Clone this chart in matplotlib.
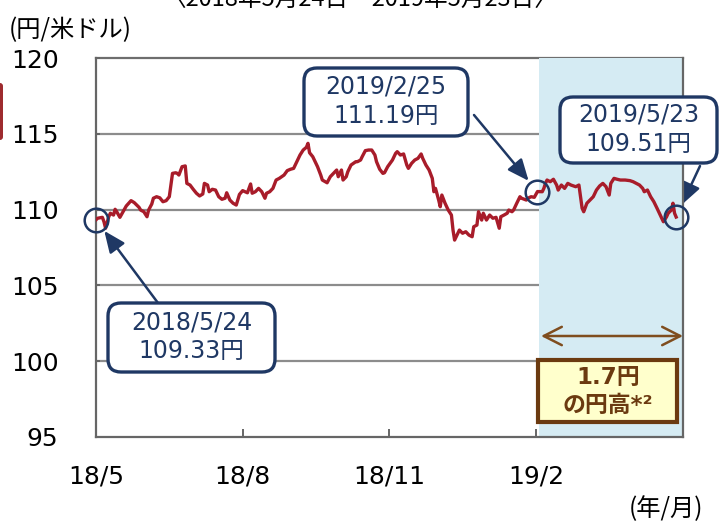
import matplotlib
matplotlib.use('Agg')
import matplotlib.pyplot as plt
from matplotlib.patches import FancyBboxPatch, Rectangle
from matplotlib.transforms import IdentityTransform

plt.rcParams['font.family'] = ['DejaVu Sans', 'Noto Sans CJK JP']

# ---- data (USD/JPY, days since 2018-05-24) ----
days = [0, 1, 4, 5, 6, 8, 9, 11, 12, 13, 15, 17, 19, 22, 24, 27, 28, 30, 32, 33,
        35, 36, 38, 40, 42, 44, 46, 48, 50, 51, 52, 54, 56, 57, 59, 61, 63, 65, 67, 68,
        70, 71, 73, 75, 77, 79, 81, 82, 84, 86, 88,
        90, 92, 95, 97, 98, 100, 102, 104, 106, 107, 109, 111, 113, 115, 118, 120, 122, 124, 126,
        128, 130, 132, 133, 134, 136, 138, 139, 141, 142, 145, 147, 149, 151, 152, 154, 155, 157, 158,
        160, 163, 164, 166, 167, 169, 171, 173, 175, 176, 178, 180,
        181, 183, 186, 188, 189, 191, 193, 195, 196, 198, 200, 202, 204, 205, 207, 209, 211, 212, 213,
        215, 216, 217, 219, 221, 223, 224, 225, 227, 228, 230, 232, 234, 236, 237, 239, 240, 242, 243,
        245, 247, 249, 251, 253, 254, 256, 258, 259, 261, 262, 264, 266, 267, 270,
        271, 273, 275, 277, 280, 281, 282, 283, 285, 287, 289, 290, 292, 294, 296, 298, 301, 303, 304,
        305, 306, 308, 310, 312, 314, 316, 318, 320, 322, 323, 325, 327, 329, 332, 335, 337, 339, 341,
        343, 344, 346, 348, 350, 352, 354, 356, 358, 359, 360, 361, 362, 363, 364]
usdjpy = [109.33, 109.43, 109.49, 109.20, 108.77, 109.53, 109.76, 109.64, 110.02, 109.86,
          109.49, 109.86, 110.24, 110.59, 110.46, 110.15, 109.97, 109.86, 109.53, 109.97,
          110.37, 110.75, 110.85, 110.78, 110.52, 110.59, 110.85, 112.39, 112.43, 112.39,
          112.28, 112.83, 112.88, 111.73, 111.62, 111.34, 111.08, 110.90, 111.03, 111.73,
          111.62, 111.18, 111.34, 111.29, 110.85, 110.68, 110.75, 111.11, 110.63, 110.42, 110.30,
          111.00, 111.25, 111.11, 111.69, 111.08, 111.18, 111.40, 111.18, 110.75, 111.08,
          111.18, 111.40, 111.95, 112.06, 112.28, 112.57, 112.66, 112.72, 113.16,
          113.60, 113.93, 114.11, 114.37, 113.75, 113.49, 113.05, 112.83, 112.28, 111.95,
          111.77, 112.17, 112.39, 112.61, 112.17, 112.61, 111.95, 112.17, 112.50,
          112.94, 113.16, 113.16, 113.27, 113.49, 113.89, 113.93, 113.93, 113.60, 113.16, 112.66, 112.39,
          112.43, 112.83, 113.27, 113.71, 113.82, 113.60, 113.67, 112.94, 112.72, 113.05,
          113.27, 113.38, 113.67, 113.38, 112.94, 112.61, 112.06, 111.18, 111.40,
          110.63, 110.19, 110.96, 110.42, 109.97, 109.64, 108.65, 107.99, 108.44, 108.65,
          108.44, 108.54, 108.32, 108.21, 108.87, 108.98, 109.86, 109.31, 109.76,
          109.31, 109.64, 109.43, 109.49, 108.77, 109.53, 109.64, 109.76, 109.97, 109.86,
          109.97, 110.42, 110.85, 110.75, 110.63,
          110.75, 110.85, 110.81, 111.19, 111.18, 111.40, 111.73, 111.95, 111.84, 112.00,
          111.62, 111.29, 111.62, 111.40, 111.73, 111.62, 111.51, 111.62, 110.85,
          110.09, 109.86, 110.42, 110.63, 110.85, 111.29, 111.56, 111.73, 111.51, 110.96,
          111.73, 112.06, 112.00, 111.95, 111.95, 111.91, 111.84, 111.73, 111.62,
          111.40, 111.18, 111.29, 110.85, 110.52, 110.09, 109.64, 109.20, 109.53, 109.76,
          109.86, 109.97, 110.42, 109.76, 109.51]

tick_days = [0, 92, 184, 276]
tick_labels = ['18/5', '18/8', '18/11', '19/2']
y_ticks = [95, 100, 105, 110, 115, 120]
marked_days = [0, 277, 364]
marked_vals = [109.33, 111.19, 109.51]
callouts = [('2018/5/24', '109.33円'), ('2019/2/25', '111.19円'), ('2019/5/23', '109.51円')]
move_text = ('1.7円', 'の円高*²')
title = '〈2018年5月24日～2019年5月23日〉'

W, H = 720, 522
NAVY = '#1f3864'
RED = '#a81c2a'
BROWN = '#6b3a10'

fig = plt.figure(figsize=(W / 100, H / 100), dpi=100)
ax = fig.add_axes([96 / W, 1 - 437 / H, 587 / W, 379 / H])
ax.set_xlim(0, 368.3)
ax.set_ylim(95, 120)

for v in [100, 105, 110, 115]:
    ax.axhline(v, color='#8c8c8c', lw=1.6, zorder=1)
ax.axhline(120, color='#6e6e6e', lw=1.6, zorder=1, clip_on=False)
ax.axvspan(278, 368.3, color='#d5ebf3', lw=0, zorder=2)

ax.plot(days, usdjpy, color=RED, lw=2.4, zorder=5, solid_joinstyle='round')
ax.plot(marked_days, marked_vals, 'o', ms=17, mfc='none', mec=NAVY, mew=1.8,
        zorder=6, clip_on=False)

ax.spines['top'].set_visible(False)
for s in ['left', 'right', 'bottom']:
    ax.spines[s].set_color('#666666')
    ax.spines[s].set_linewidth(1.6)
    ax.spines[s].set_zorder(3)

ax.set_xticks(tick_days)
ax.set_xticklabels(tick_labels)
ax.set_yticks(y_ticks)
ax.set_yticklabels([str(t) for t in y_ticks])
ax.tick_params(axis='x', direction='in', length=6, width=1.4, color='#666666',
               pad=20, labelsize=18)
ax.tick_params(axis='y', direction='in', length=3, width=1.4, color='#666666',
               pad=27, labelsize=18)

def fp(x, y):
    return (x, H - y)

# arrows to circles
arrow_kw = dict(arrowstyle='-|>,head_length=0.65,head_width=0.28', color=NAVY,
                lw=1.8, shrinkA=0, shrinkB=10, mutation_scale=20)
starts = [(158, 303), (474, 115), (700, 166)]
for (d, v), s in zip(zip(marked_days, marked_vals), starts):
    ax.annotate('', xy=(d, v), xycoords='data', xytext=fp(*s),
                textcoords='figure pixels', arrowprops=arrow_kw,
                annotation_clip=False)

# double arrow
ax.annotate('', xy=fp(683, 336), xycoords='figure pixels', xytext=fp(541, 336),
            textcoords='figure pixels', annotation_clip=False,
            arrowprops=dict(arrowstyle='<->,head_length=0.65,head_width=0.33',
                            color='#7f4d1e', lw=1.8, shrinkA=0, shrinkB=0,
                            mutation_scale=20))

# callout boxes
boxes = [(108, 303, 275, 372), (304, 68, 468, 136), (560, 97, 717, 163)]
for (x0, y0, x1, y1), (l1, l2) in zip(boxes, callouts):
    p = FancyBboxPatch((x0, H - y1), x1 - x0, y1 - y0,
                       boxstyle='round,pad=0,rounding_size=13',
                       transform=IdentityTransform(), fc='white', ec=NAVY,
                       lw=2.4, zorder=10)
    fig.add_artist(p)
    cx = (x0 + x1) / 2
    cy = (y0 + y1) / 2
    fig.text(cx / W, 1 - (cy - 15) / H, l1, ha='center', va='center',
             fontsize=17, color=NAVY, zorder=11)
    fig.text(cx / W, 1 - (cy + 14) / H, l2, ha='center', va='center',
             fontsize=17, color=NAVY, zorder=11)

# yellow box
r = Rectangle((538, H - 422), 139, 62, transform=IdentityTransform(),
              fc='#ffffcc', ec=BROWN, lw=3, zorder=10)
fig.add_artist(r)
fig.text(608 / W, 1 - 378 / H, move_text[0], ha='center', va='center',
         fontsize=16.5, fontweight='bold', color=BROWN, zorder=11)
fig.text(608 / W, 1 - 405 / H, move_text[1], ha='center', va='center',
         fontsize=16.5, fontweight='bold', color=BROWN, zorder=11)

# red tab at left edge
tab = FancyBboxPatch((-8, H - 140), 11, 57, boxstyle='round,pad=0,rounding_size=3',
                     transform=IdentityTransform(), fc='#9e2b2f', ec='none')
fig.add_artist(tab)

# texts
cjk = ['Noto Sans CJK JP', 'DejaVu Sans']
fig.text(360 / W, 1 - 7 / H, title, ha='center', va='baseline', fontsize=17,
         family=cjk, color='black')
fig.text(9 / W, 1 - 30 / H, '(円/米ドル)', ha='left', va='center', fontsize=17.5,
         family=cjk)
fig.text(703 / W, 1 - 509 / H, '(年/月)', ha='right', va='center', fontsize=17.5,
         family=cjk)

fig.savefig('out.png', dpi=100)
